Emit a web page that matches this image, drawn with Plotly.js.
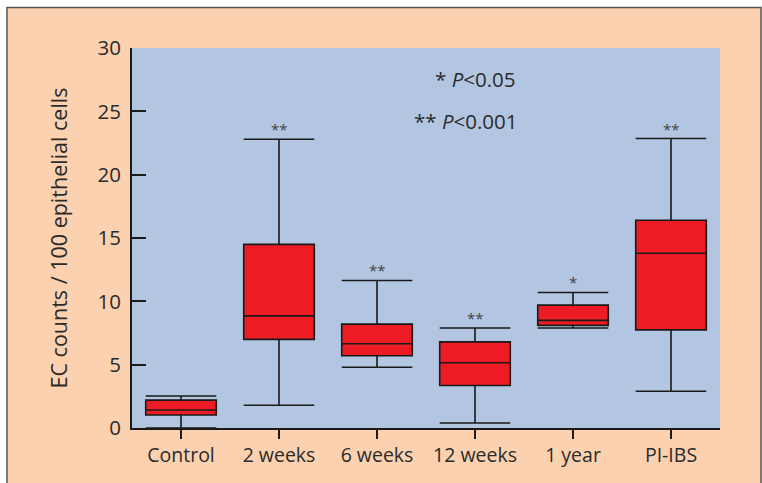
<!DOCTYPE html>
<html>
<head>
<meta charset="utf-8">
<script src="https://cdn.plot.ly/plotly-3.0.1.min.js"></script>
<style>html,body{margin:0;padding:0;background:#fff;}#chart{width:762px;height:483px;}</style>
</head>
<body>
<div id="chart"></div>
<script>
// ---- data ----
var categories = ['Control', '2 weeks', '6 weeks', '12 weeks', '1 year', 'PI-IBS'];
var lowerFence = [0.0, 1.8, 4.8, 0.4, 7.9, 2.9];
var q1Values    = [1.03, 7.0, 5.7, 3.35, 8.1, 7.75];
var medianVals  = [1.42, 8.85, 6.65, 5.15, 8.5, 13.8];
var q3Values    = [2.2, 14.5, 8.2, 6.8, 9.7, 16.4];
var upperFence  = [2.53, 22.8, 11.65, 7.9, 10.7, 22.85];
var significance = ['', '**', '**', '**', '*', '**'];
var legendLines = ['* <i>P</i><0.05', '** <i>P</i><0.001'];
var yTickVals = [0, 5, 10, 15, 20, 25, 30];

// ---- layout helpers ----
var W = 762, H = 483, ML = 132, MR = 42, MT = 48, MB = 55;
var PW = W - ML - MR, PH = H - MT - MB;
function px2x(px) { return (px - ML) / PW; }
function px2y(py) { return (H - MB - py) / PH; }

var FONT = 'Open Sans, Liberation Sans, sans-serif';
var TXT = '#2b2b2b';

var trace = {
  type: 'box',
  x: categories,
  q1: q1Values,
  median: medianVals,
  q3: q3Values,
  lowerfence: lowerFence,
  upperfence: upperFence,
  boxpoints: false,
  width: 0.72,
  whiskerwidth: 1,
  fillcolor: '#ed1c24',
  line: {color: '#1a1a1a', width: 1.6},
  hoverinfo: 'skip',
  showlegend: false
};

var annotations = [];
categories.forEach(function (c, i) {
  if (significance[i]) {
    annotations.push({
      x: c, y: upperFence[i], xref: 'x', yref: 'y',
      text: significance[i], showarrow: false,
      xanchor: 'center', yanchor: 'bottom', yshift: -2,
      font: {family: FONT, size: 15, color: '#444'}
    });
  }
});
annotations.push({
  x: px2x(433), y: px2y(79), xref: 'paper', yref: 'paper',
  text: legendLines[0], showarrow: false, xanchor: 'left', yanchor: 'middle',
  font: {family: FONT, size: 20.5, color: TXT}
});
annotations.push({
  x: px2x(412), y: px2y(121), xref: 'paper', yref: 'paper',
  text: legendLines[1], showarrow: false, xanchor: 'left', yanchor: 'middle',
  font: {family: FONT, size: 20.5, color: TXT}
});

var layout = {
  width: W, height: H,
  margin: {l: ML, r: MR, t: MT, b: MB, pad: 0},
  paper_bgcolor: '#ffffff',
  plot_bgcolor: 'rgba(0,0,0,0)',
  showlegend: false,
  font: {family: FONT, size: 20, color: TXT},
  xaxis: {
    type: 'category',
    range: [-0.5, 5.5],
    showline: true, linecolor: '#1a1a1a', linewidth: 2,
    ticks: 'outside', ticklen: 9, tickwidth: 1.6, tickcolor: '#1a1a1a',
    showgrid: false, zeroline: false,
    tickfont: {family: FONT, size: 19.5, color: TXT},
    fixedrange: true
  },
  yaxis: {
    range: [0, 30],
    tickvals: yTickVals,
    showline: true, linecolor: '#1a1a1a', linewidth: 2,
    ticks: 'inside', ticklen: 14, tickwidth: 2, tickcolor: '#1a1a1a',
    ticklabelstandoff: 5,
    showgrid: false, zeroline: false,
    tickfont: {family: FONT, size: 20.5, color: TXT},
    title: {text: 'EC counts / 100 epithelial cells', standoff: 24,
            font: {family: FONT, size: 21.5, color: TXT}},
    fixedrange: true
  },
  shapes: [
    {type: 'rect', xref: 'paper', yref: 'paper', layer: 'below',
     x0: px2x(7), x1: px2x(761), y0: px2y(7.5), y1: px2y(495),
     fillcolor: '#fbd1af', line: {color: '#555555', width: 1.5}},
    {type: 'rect', xref: 'paper', yref: 'paper', layer: 'below',
     x0: 0, x1: 1, y0: 0, y1: 1,
     fillcolor: '#b2c6e1', line: {width: 0}}
  ],
  annotations: annotations
};

Plotly.newPlot('chart', [trace], layout, {staticPlot: true, displayModeBar: false});
</script>
</body>
</html>
